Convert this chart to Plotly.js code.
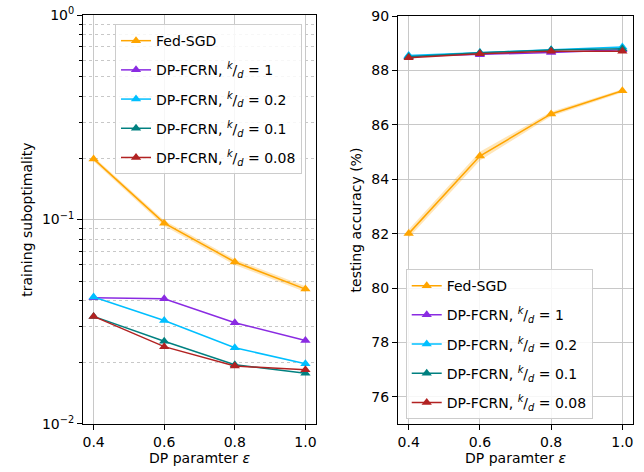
<!DOCTYPE html>
<html>
<head>
<meta charset="utf-8">
<script src="https://cdn.plot.ly/plotly-3.0.1.min.js"></script>
<style>html,body{margin:0;padding:0;background:#fff;}#chart{width:644px;height:472px;}</style>
</head>
<body>
<div id="chart"></div>
<script>
// ---- data ----
const epsilons = [0.4, 0.6, 0.8, 1.0];
const seriesNames = [
  "Fed-SGD",
  "DP-FCRN, <sup><i>k</i></sup>/<sub><i>d</i></sub> = 1",
  "DP-FCRN, <sup><i>k</i></sup>/<sub><i>d</i></sub> = 0.2",
  "DP-FCRN, <sup><i>k</i></sup>/<sub><i>d</i></sub> = 0.1",
  "DP-FCRN, <sup><i>k</i></sup>/<sub><i>d</i></sub> = 0.08"
];
// training suboptimality (left, log scale)
const subFedSGD = [0.198, 0.096, 0.062, 0.0457];
const subK1     = [0.0415, 0.0410, 0.0313, 0.0256];
const subK02    = [0.0418, 0.0321, 0.0236, 0.0197];
const subK01    = [0.0336, 0.0254, 0.0195, 0.0177];
const subK008   = [0.0336, 0.0239, 0.0192, 0.0184];
const subFedSGDStd = [0.005, 0.003, 0.002, 0.0015];
// testing accuracy (right)
const accFedSGD = [82.0, 84.85, 86.4, 87.25];
const accK1     = [88.52, 88.58, 88.66, 88.76];
const accK02    = [88.55, 88.66, 88.76, 88.86];
const accK01    = [88.5, 88.65, 88.75, 88.8];
const accK008   = [88.47, 88.61, 88.71, 88.71];
const accFedSGDStd = [0.15, 0.16, 0.08, 0.06];

const colors = ["#FFA500", "#8A2BE2", "#00BFFF", "#008080", "#B22222"];
const fills = ["rgba(255,165,0,0.28)"];

const subData = [subFedSGD, subK1, subK02, subK01, subK008];
const accData = [accFedSGD, accK1, accK02, accK01, accK008];

function band(x, y, s, xa, ya, fc) {
  const up = y.map((v, i) => v + s[i]);
  const lo = y.map((v, i) => v - s[i]);
  return [
    {x: x, y: lo, xaxis: xa, yaxis: ya, mode: "lines", line: {width: 0}, showlegend: false, hoverinfo: "skip"},
    {x: x, y: up, xaxis: xa, yaxis: ya, mode: "lines", line: {width: 0}, fill: "tonexty", fillcolor: fc, showlegend: false, hoverinfo: "skip"}
  ];
}

const traces = [];
traces.push(...band(epsilons, subFedSGD, subFedSGDStd, "x", "y", fills[0]));
traces.push(...band(epsilons, accFedSGD, accFedSGDStd, "x2", "y2", fills[0]));
subData.forEach((d, i) => {
  traces.push({x: epsilons, y: d, xaxis: "x", yaxis: "y", mode: "lines+markers", name: seriesNames[i],
    legendgroup: "L" + i,
    line: {color: colors[i], width: 1.5}, marker: {symbol: "triangle-up", size: 9, color: colors[i]}, legend: "legend"});
});
accData.forEach((d, i) => {
  traces.push({x: epsilons, y: d, xaxis: "x2", yaxis: "y2", mode: "lines+markers", name: seriesNames[i],
    legendgroup: "R" + i,
    line: {color: colors[i], width: 1.5}, marker: {symbol: "triangle-up", size: 9, color: colors[i]}, legend: "legend2"});
});

const font = {family: "DejaVu Sans", size: 14, color: "#000"};
const xCommon = {
  range: [0.37, 1.03], tickvals: epsilons, tickformat: ".1f",
  showline: true, mirror: true, linecolor: "#000", linewidth: 1,
  ticks: "outside", ticklen: 5, tickcolor: "#000",
  showgrid: true, gridcolor: "#c8c8c8", gridwidth: 1, zeroline: false,
  title: {text: "DP paramter <i>ε</i>", font: {size: 14}, standoff: 4},
  tickfont: {size: 14}
};

const legendCommon = {
  bgcolor: "rgba(255,255,255,0.85)", bordercolor: "#cccccc", borderwidth: 1,
  font: {family: "DejaVu Sans", size: 14}, xanchor: "left", yanchor: "top",
  traceorder: "grouped", tracegroupgap: 8
};

const layout = {
  width: 644, height: 472,
  margin: {l: 0, r: 0, t: 0, b: 0},
  paper_bgcolor: "#fff", plot_bgcolor: "#fff",
  font: font,
  showlegend: true,
  xaxis: Object.assign({}, xCommon, {domain: [0.1289, 0.4907], anchor: "y"}),
  xaxis2: Object.assign({}, xCommon, {domain: [0.618, 0.983], anchor: "y2"}),
  yaxis: {
    type: "log", range: [-2, 0], domain: [0.1017, 0.968], anchor: "x",
    tickvals: [0.01, 0.1, 1], ticktext: ["10<sup>−2</sup>", "10<sup>−1</sup>", "10<sup>0</sup>"],
    showline: true, mirror: true, linecolor: "#000", linewidth: 1,
    ticks: "outside", ticklen: 5, tickcolor: "#000",
    showgrid: true, gridcolor: "#c8c8c8", zeroline: false,
    minor: {ticks: "outside", ticklen: 3, tickcolor: "#000", showgrid: true, gridcolor: "#c8c8c8", griddash: "dot",
            tickvals: [0.02,0.03,0.04,0.05,0.06,0.07,0.08,0.09,0.2,0.3,0.4,0.5,0.6,0.7,0.8,0.9]},
    title: {text: "training suboptimality", font: {size: 14}, standoff: 6},
    tickfont: {size: 14}
  },
  yaxis2: {
    range: [75, 90], domain: [0.1017, 0.966], anchor: "x2",
    tickvals: [76, 78, 80, 82, 84, 86, 88, 90],
    showline: true, mirror: true, linecolor: "#000", linewidth: 1,
    ticks: "outside", ticklen: 5, tickcolor: "#000",
    showgrid: true, gridcolor: "#c8c8c8", zeroline: false,
    title: {text: "testing accuracy (%)", font: {size: 14}, standoff: 6},
    tickfont: {size: 14}
  },
  legend: Object.assign({}, legendCommon, {x: 0.1786, y: 0.949}),
  legend2: Object.assign({}, legendCommon, {x: 0.630, y: 0.430})
};

Plotly.newPlot("chart", traces, layout, {staticPlot: true, displayModeBar: false});
</script>
</body>
</html>
